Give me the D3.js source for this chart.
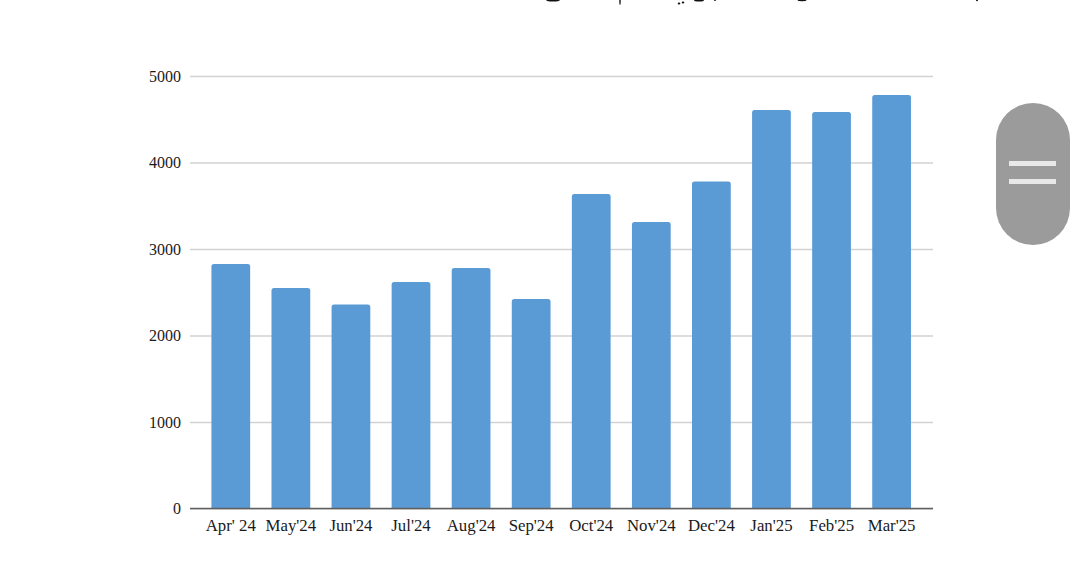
<!DOCTYPE html>
<html><head><meta charset="utf-8">
<script src="https://cdnjs.cloudflare.com/ajax/libs/d3/7.8.5/d3.min.js"></script>
<style>html,body{margin:0;padding:0;background:#fff;overflow:hidden}svg{display:block}</style>
</head><body><svg id="c" width="1080" height="565"></svg>
<script>
const categories = ["Apr' 24","May'24","Jun'24","Jul'24","Aug'24","Sep'24","Oct'24","Nov'24","Dec'24","Jan'25","Feb'25","Mar'25"];
const values = [2827,2550,2357,2618,2780,2422,3636,3312,3780,4607,4584,4780];
const yTicks = [0,1000,2000,3000,4000,5000];
const fontFamily = "'Liberation Serif','Times New Roman',serif";

const svg = d3.select("#c");
const x = d3.scaleBand().domain(categories).range([200.6,921.8]).paddingInner(0.355).paddingOuter(0.18);
const y = d3.scaleLinear().domain([0,5000]).range([508.5,76]);
const axisLeft = 190, axisRight = 933;

const yAxis = svg.append("g").attr("transform",`translate(${axisLeft},0)`)
  .call(d3.axisLeft(y).tickValues(yTicks).tickSize(-(axisRight-axisLeft)).tickPadding(9).tickFormat(d3.format("d")));
yAxis.select(".domain").remove();
yAxis.selectAll(".tick line").attr("stroke","#d2d2d2").attr("stroke-width",1.4);
yAxis.selectAll(".tick text").attr("font-family",fontFamily).attr("font-size",16).attr("fill","#1a1a1a");

svg.append("g").selectAll("path").data(values).join("path")
  .attr("fill","#5b9bd5")
  .attr("d",(d,i)=>{
    const x0=x(categories[i]), w=x.bandwidth(), t=y(d), b=y(0), r=2.5;
    return `M${x0},${b}V${t+r}Q${x0},${t} ${x0+r},${t}H${x0+w-r}Q${x0+w},${t} ${x0+w},${t+r}V${b}Z`;
  });

const xAxis = svg.append("g").attr("transform",`translate(0,${y(0)})`)
  .call(d3.axisBottom(x).tickSize(0).tickPadding(10.5));
xAxis.select(".domain").remove();
xAxis.selectAll(".tick text").attr("font-family",fontFamily).attr("font-size",16.8).attr("fill","#1a1a1a");
svg.append("line").attr("x1",axisLeft).attr("x2",axisRight).attr("y1",y(0)).attr("y2",y(0))
  .attr("stroke","#5f5f5f").attr("stroke-width",1.6);

svg.append("rect").attr("x",996).attr("y",103).attr("width",74).attr("height",142).attr("rx",37).attr("fill","#9b9b9b");
svg.append("rect").attr("x",1009).attr("y",161).attr("width",47).attr("height",5).attr("fill","#e8e8e8");
svg.append("rect").attr("x",1009).attr("y",179).attr("width",47).attr("height",5).attr("fill","#e8e8e8");

const titleFragments = [[553,0,7,1.6],[620,1,0.7,4],[679,3.5,1.3,1],[683,2.5,1.3,1],[699,0,5,1.5],[715,0,1,1],[802,0,4.5,1.2],[977,0,1,1.2]];
svg.append("g").selectAll("ellipse").data(titleFragments).join("ellipse")
  .attr("cx",d=>d[0]).attr("cy",d=>d[1]).attr("rx",d=>d[2]).attr("ry",d=>d[3]).attr("fill","#111");
</script></body></html>
